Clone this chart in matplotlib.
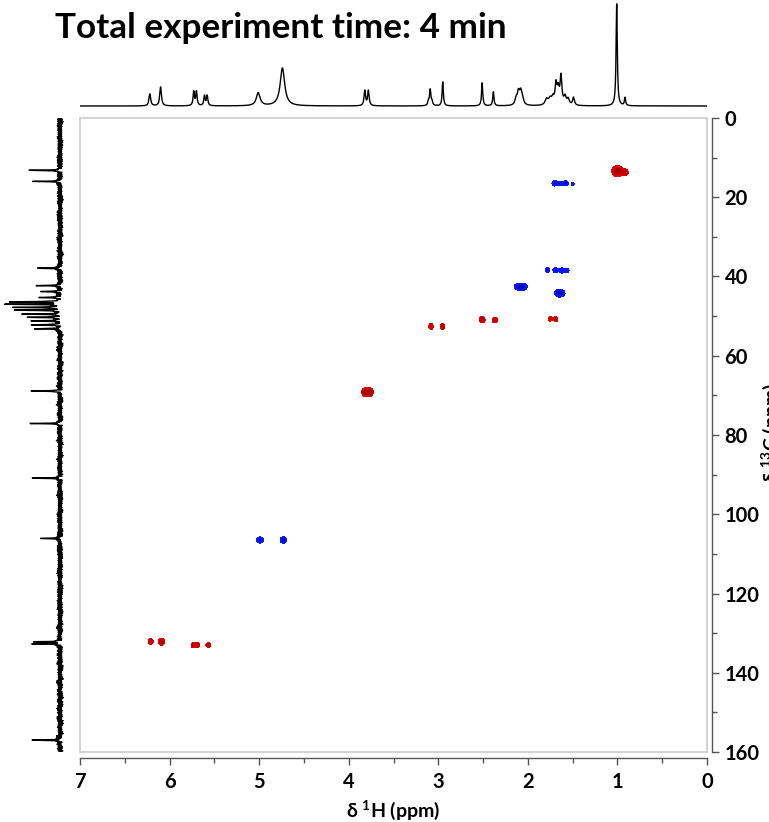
import numpy as np
import matplotlib
matplotlib.use("Agg")
import matplotlib.pyplot as plt
from matplotlib.patches import Rectangle
from matplotlib.ticker import MultipleLocator

plt.rcParams['font.family'] = ['Lato', 'DejaVu Sans']
plt.rcParams['font.weight'] = 'bold'
plt.rcParams['mathtext.fontset'] = 'custom'
plt.rcParams['mathtext.rm'] = 'Lato:bold'
plt.rcParams['mathtext.it'] = 'Lato:bold'
plt.rcParams['mathtext.bf'] = 'Lato:bold'

# ---------------- data ----------------
title = "Total experiment time: 4 min"
x_label = "δ $^{1}$H (ppm)"
y_label = "δ $^{13}$C (ppm)"
x_ticks = [7, 6, 5, 4, 3, 2, 1, 0]
y_ticks = [0, 20, 40, 60, 80, 100, 120, 140, 160]

# 1H projection: peak position (ppm), height (px), half-width (ppm)
h_pos = [6.22, 6.10, 5.73, 5.70, 5.61, 5.58, 5.01, 4.74, 3.82, 3.78,
         3.11, 3.09, 3.07, 2.95, 2.51, 2.385, 2.13, 2.105, 2.08, 2.06,
         1.79, 1.75, 1.72, 1.685, 1.66, 1.63, 1.585, 1.55, 1.49, 1.008, 0.915]
h_hgt = [12, 19, 14, 14, 10, 10, 13, 38, 15, 15,
         4, 16, 4, 24, 23, 14, 6, 12, 12, 6,
         6, 6, 6, 20, 14, 28, 8, 6, 8, 102, 8]
h_wid = [0.011, 0.011, 0.009, 0.009, 0.009, 0.009, 0.025, 0.03, 0.01, 0.01,
         0.008, 0.009, 0.008, 0.008, 0.008, 0.008, 0.015, 0.015, 0.015, 0.015,
         0.02, 0.02, 0.015, 0.013, 0.013, 0.012, 0.015, 0.015, 0.012, 0.008, 0.008]

# 13C projection: peak position (ppm), height (px)
c_pos = [13.2, 16.0, 37.9, 42.3, 43.8, 45.3, 46.4, 47.0, 47.8, 48.5, 49.5,
         50.3, 51.2, 52.2, 53.2, 68.9, 77.1, 90.9, 106.1, 132.2, 132.7, 157.0]
c_hgt = [29, 25, 24, 22, 21, 22, 50, 53, 47, 44, 35,
         32, 28, 29, 25, 28, 27, 25, 20, 27, 28, 26]

# HSQC cross peaks: 1H ppm, 13C ppm, amplitude (+ CH/CH3, - CH2), widths (ppm)
x_h = [1.00, 0.915, 1.75, 1.69, 2.51, 2.37, 3.08, 2.95, 3.815, 3.765,
       6.21, 6.09, 5.735, 5.69, 5.57,
       1.70, 1.645, 1.58, 1.50, 1.78, 1.69, 1.62, 1.565, 2.08, 1.645, 4.99, 4.73]
x_c = [13.4, 13.7, 50.7, 50.8, 50.9, 51.0, 52.6, 52.6, 69.2, 69.2,
       132.1, 132.2, 133.0, 133.0, 133.0,
       16.5, 16.5, 16.5, 16.6, 38.4, 38.4, 38.5, 38.5, 42.6, 44.2, 106.5, 106.5]
x_amp = [1.0, 0.7, 0.6, 0.6, 0.8, 0.7, 0.7, 0.7, 1.0, 1.0,
         0.7, 0.8, 0.65, 0.65, 0.6,
         -0.7, -0.6, -0.7, -0.5, -0.65, -0.65, -0.7, -0.6, -1.0, -1.0, -0.8, -0.8]
x_wh = [0.065, 0.04, 0.028, 0.028, 0.035, 0.033, 0.028, 0.028, 0.04, 0.04,
        0.03, 0.037, 0.03, 0.03, 0.03,
        0.035, 0.035, 0.035, 0.022, 0.03, 0.035, 0.035, 0.03, 0.075, 0.06, 0.04, 0.04]
x_wc = [1.4, 0.9, 0.7, 0.8, 0.9, 0.8, 0.85, 0.85, 1.1, 1.1,
        0.85, 1.0, 0.75, 0.75, 0.7,
        0.75, 0.7, 0.75, 0.5, 0.7, 0.75, 0.75, 0.7, 0.95, 1.0, 0.85, 0.85]

# ---------------- figure ----------------
W, H = 769, 822
fig = plt.figure(figsize=(W / 100, H / 100), dpi=100)

def rect(x0, y0, x1, y1):
    return [x0 / W, 1 - y1 / H, (x1 - x0) / W, (y1 - y0) / H]

ax = fig.add_axes(rect(80, 118, 707, 752))
ax_top = fig.add_axes(rect(80, 0, 707, 108))
ax_left = fig.add_axes(rect(0, 118, 68, 752))

# 2D contour map
gh = np.arange(0, 7.0001, 0.004)
gc = np.arange(0, 160.0001, 0.08)
Z = np.zeros((gc.size, gh.size))
for h0, c0, a, wh, wc in zip(x_h, x_c, x_amp, x_wh, x_wc):
    sh, sc = wh / 1.8, wc / 1.8
    fy = np.exp(-0.5 * ((gc - c0) / sc) ** 2)
    fx = np.exp(-0.5 * ((gh - h0) / sh) ** 2)
    Z += a * np.outer(fy, fx)
ax.contourf(gh, gc, Z, levels=[0.2, 0.45, 0.75, 2], colors=['#e00000', '#c40000', '#a00000'])
ax.contourf(gh, gc, Z, levels=[-2, -0.75, -0.45, -0.2], colors=['#0000a8', '#0000d0', '#0818f8'])
ax.set_xlim(7, 0)
ax.set_ylim(160, 0)

for s in ['top', 'left']:
    ax.spines[s].set_visible(False)
ax.spines['bottom'].set_position(('outward', 4.5))
ax.spines['right'].set_position(('outward', 3.6))
for s in ['bottom', 'right']:
    ax.spines[s].set_color('#555555')
    ax.spines[s].set_linewidth(1.0)
ax.add_patch(Rectangle((0, 0), 1, 1, transform=ax.transAxes, fill=False,
                       edgecolor='#cfcfcf', lw=1.3, clip_on=False, zorder=5))
ax.yaxis.tick_right()
ax.set_xticks(x_ticks)
ax.set_xticklabels([str(t) for t in x_ticks])
ax.set_yticks(y_ticks)
ax.set_yticklabels([str(t) for t in y_ticks])
ax.xaxis.set_minor_locator(MultipleLocator(0.5))
ax.yaxis.set_minor_locator(MultipleLocator(10))
ax.tick_params(axis='x', which='major', direction='out', length=5, width=1, color='#555555',
               labelsize=14.5, pad=5)
ax.tick_params(axis='x', which='minor', direction='out', length=3.5, width=1, color='#555555')
ax.tick_params(axis='y', which='major', direction='out', length=5, width=1, color='#555555',
               labelsize=14.5, pad=4, left=False, right=True)
ax.tick_params(axis='y', which='minor', direction='out', length=3.5, width=1, color='#555555',
               left=False, right=True)
for lab in ax.get_xticklabels() + ax.get_yticklabels():
    lab.set_fontweight('bold')
ax.set_xlabel(x_label, fontsize=14, fontweight='bold', labelpad=5)
fig.text(760 / W, 1 - 433 / H, y_label, rotation=90, fontsize=14, fontweight='bold',
         ha='left', va='center')

# 1H projection
xs = np.arange(0, 7.0001, 0.001)
spec = np.zeros_like(xs)
for p, hh, w in zip(h_pos, h_hgt, h_wid):
    spec += hh / (1 + ((xs - p) / w) ** 2)
ax_top.plot(xs, spec, color='black', lw=1.0)
ax_top.set_xlim(7, 0)
ax_top.set_ylim(-2, 106)
ax_top.axis('off')

# 13C projection (peaks drawn leftward from baseline)
ys = np.arange(0, 160.0001, 0.05)
cspec = np.zeros_like(ys)
for p, hh in zip(c_pos, c_hgt):
    cspec += hh / (1 + ((ys - p) / 0.08) ** 2)
texture = (1.1 * np.sin(ys * 17.3) + 0.9 * np.sin(ys * 29.1 + 1.3) +
           0.8 * np.sin(ys * 43.7 + 0.4) + 0.7 * np.sin(ys * 61.9 + 2.2) +
           0.5 * np.sin(ys * 83.3 + 0.9))
ax_left.plot(cspec + texture, ys, color='black', lw=1.0)
ax_left.set_ylim(160, 0)
ax_left.set_xlim(60, -8)
ax_left.axis('off')

fig.text(55 / W, 1 - 38 / H, title, fontsize=25.3, fontweight='bold', ha='left', va='baseline')

fig.savefig('out.png', dpi=100)
